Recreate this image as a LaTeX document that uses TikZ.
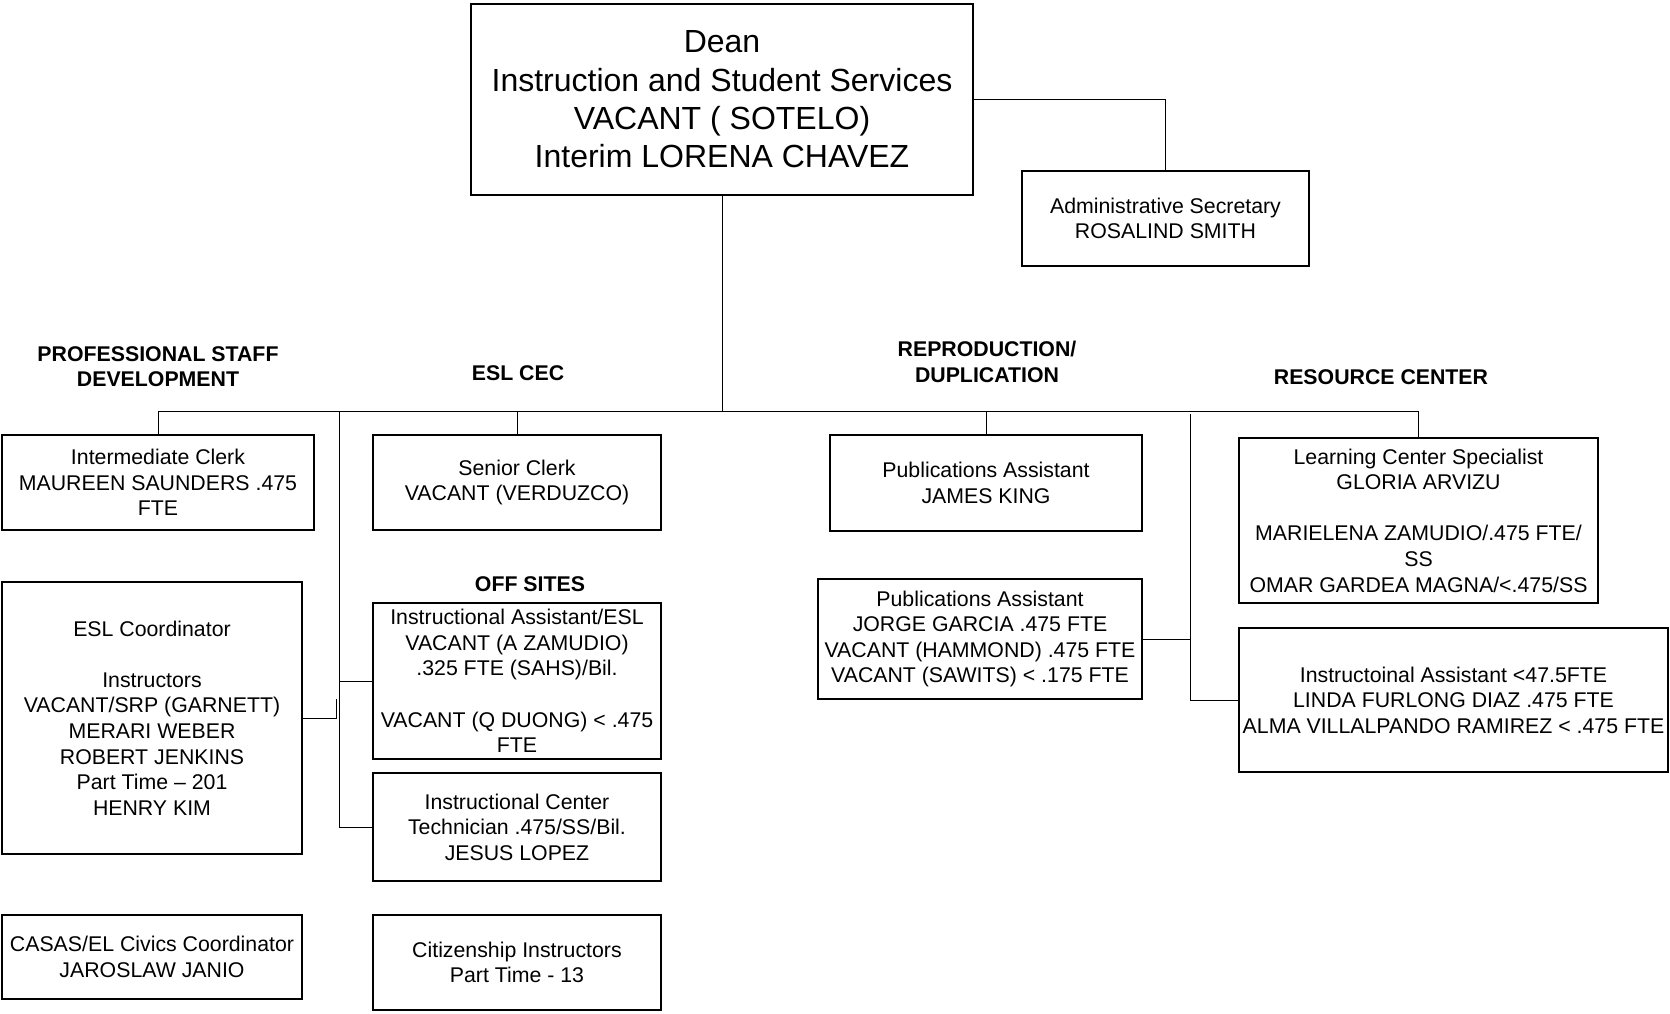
\documentclass[tikz,border=0pt]{standalone}
\usepackage{fontspec}
\setmainfont{Liberation Sans}
\begin{document}
\begin{tikzpicture}[x=1pt,y=-1pt,
  box/.style={draw,line width=1.5pt,align=center,inner sep=0pt,
    font=\fontsize{21.3}{25.6}\selectfont},
  head/.style={align=center,inner sep=0pt,font=\fontsize{21.3}{25.6}\selectfont\bfseries},
  conn/.style={line width=0.9pt}]
\useasboundingbox (0,0) rectangle (1670,1013);
% top
\node[box,minimum width=502,minimum height=191,font=\fontsize{32}{38.3}\selectfont] (dean) at (722,99.5)
  {Dean\\Instruction and Student Services\\VACANT ( SOTELO)\\Interim LORENA CHAVEZ};
\node[box,minimum width=287,minimum height=95] (admin) at (1165.5,218.5)
  {Administrative Secretary\\ROSALIND SMITH};
% headings
\node[head] (hpsd) at (158,366.5) {PROFESSIONAL STAFF\\DEVELOPMENT};
\node[head] (hesl) at (518,373) {ESL CEC};
\node[head] (hrep) at (987,362) {REPRODUCTION/\\DUPLICATION};
\node[head] (hres) at (1381,377) {RESOURCE CENTER};
\node[head] (hoff) at (530,584) {OFF SITES};
% left boxes
\node[box,minimum width=312,minimum height=95] (iclerk) at (158,482.5)
  {Intermediate Clerk\\MAUREEN SAUNDERS .475\\FTE};
\node[box,minimum width=288,minimum height=95] (sclerk) at (517,482.5)
  {Senior Clerk\\VACANT (VERDUZCO)};
\node[box,minimum width=300,minimum height=272] (eslc) at (152,718)
  {ESL Coordinator\\[25.6pt]Instructors\\VACANT/SRP (GARNETT)\\MERARI WEBER\\ROBERT JENKINS\\Part Time -- 201\\HENRY KIM};
\node[box,minimum width=288,minimum height=156] (iaesl) at (517,681)
  {Instructional Assistant/ESL\\VACANT (A ZAMUDIO)\\.325 FTE (SAHS)/Bil.\\[25.6pt]VACANT (Q DUONG) < .475\\FTE};
\node[box,minimum width=288,minimum height=108] (ictech) at (517,827)
  {Instructional Center\\Technician .475/SS/Bil.\\JESUS LOPEZ};
\node[box,minimum width=300,minimum height=84] (casas) at (152,957)
  {CASAS/EL Civics Coordinator\\JAROSLAW JANIO};
\node[box,minimum width=288,minimum height=95] (citi) at (517,962.5)
  {Citizenship Instructors\\Part Time - 13};
% right boxes
\node[box,minimum width=312,minimum height=96] (pub1) at (986,483)
  {Publications Assistant\\JAMES KING};
\node[box,minimum width=324,minimum height=120] (pub2) at (980,639)
  {Publications Assistant\\JORGE GARCIA .475 FTE\\VACANT (HAMMOND) .475 FTE\\VACANT (SAWITS) < .175 FTE};
\node[box,minimum width=359,minimum height=165] (lcs) at (1418.5,520.5)
  {Learning Center Specialist\\GLORIA ARVIZU\\[25.6pt]MARIELENA ZAMUDIO/.475 FTE/\\SS\\OMAR GARDEA MAGNA/<.475/SS};
\node[box,minimum width=429,minimum height=144] (ia) at (1453.5,700)
  {Instructoinal Assistant <47.5FTE\\LINDA FURLONG DIAZ .475 FTE\\ALMA VILLALPANDO RAMIREZ < .475 FTE};
% connectors
\coordinate (bus) at (722,411);
\coordinate (lv) at (339,411);
\coordinate (rv) at (1190,414);
\draw[conn] (dean.east) -| (admin.north);
\draw[conn] (dean.south) -- (bus);
\draw[conn] (iclerk.north) -- (iclerk.north |- bus) -- (lcs.north |- bus) -- (lcs.north);
\draw[conn] (sclerk.north) -- (sclerk.north |- bus);
\draw[conn] (pub1.north) -- (pub1.north |- bus);
\draw[conn] (lv) |- (ictech.west);
\draw[conn] (lv |- iaesl.west) -- (iaesl.west);
\draw[conn] (eslc.east) -- ++(33.5,0) -- ++(0,-19);
\draw[conn] (rv) |- (ia.west);
\draw[conn] (pub2.east) -- (pub2.east -| rv);
\end{tikzpicture}
\end{document}
